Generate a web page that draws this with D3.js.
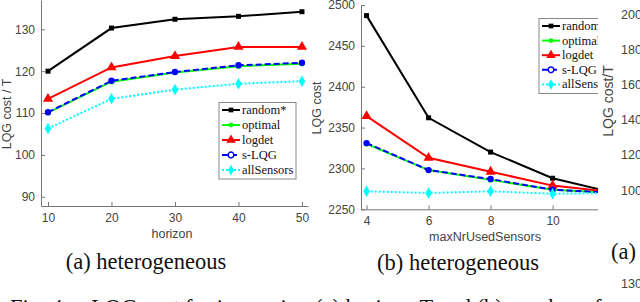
<!DOCTYPE html>
<html>
<head>
<meta charset="utf-8">
<script src="https://cdn.jsdelivr.net/npm/d3@7"></script>
<style>
body { margin: 0; background: #fff; }
svg { display: block; }
.tick text { font-family: "Liberation Sans", Arial, sans-serif; font-size: 12px; fill: #444; }
.lab { font-family: "Liberation Sans", Arial, sans-serif; font-size: 12.5px; fill: #444; }
.leg { font-family: "Liberation Serif", "Times New Roman", serif; font-size: 12.5px; fill: #111; }
.cap { font-family: "Liberation Serif", "Times New Roman", serif; font-size: 22.5px; fill: #111; }
</style>
</head>
<body>
<svg width="640" height="302"></svg>
<script>
// ---- data ----
var seriesNames = ["random*", "optimal", "logdet", "s-LQG", "allSensors"];
var seriesColors = ["#000000", "#00ff00", "#ff0000", "#0000ff", "#00ffff"];
var seriesSymbols = [d3.symbolSquare, d3.symbolCircle, d3.symbolTriangle, d3.symbolCircle, d3.symbolDiamond];
var seriesDash = [null, null, null, "6,3", "2,2"];

var horizon = [10, 20, 30, 40, 50];
var horizonRandom = [120.0, 130.3, 132.4, 133.1, 134.2];
var horizonOptimal = [110.1, 117.5, 119.7, 121.2, 121.8];
var horizonLogdet = [113.4, 120.9, 123.6, 125.8, 125.8];
var horizonSLQG = [110.2, 117.7, 119.8, 121.4, 122.0];
var horizonAll = [106.3, 113.4, 115.6, 117.0, 117.6];

var sensors = [4, 6, 8, 10, 12];
var sensorsRandom = [2487, 2362, 2320, 2288, 2270];
var sensorsOptimal = [2330, 2298, 2286, 2274, 2270];
var sensorsLogdet = [2364, 2313, 2296, 2279, 2271];
var sensorsSLQG = [2331, 2298, 2287, 2274, 2270];
var sensorsAll = [2272, 2270, 2272, 2269, 2270];

var yTicksA = [90, 100, 110, 120, 130];
var xTicksA = [10, 20, 30, 40, 50];
var yTicksB = [2250, 2300, 2350, 2400, 2450, 2500];
var xTicksB = [4, 6, 8, 10];
var yTicksC = [200, 180, 160, 140, 120, 100];

var svg = d3.select("svg");

var drawPanel = function(g, xs, ys, xVals, series, xTicks, yTicks, cfg) {
	g.append("g")
		.attr("transform", "translate(0," + ys.range()[0] + ")")
		.call(d3.axisBottom(xs).tickValues(xTicks).tickSize(-4).tickSizeOuter(0).tickPadding(7).tickFormat(d3.format("d")));
	g.append("g")
		.attr("transform", "translate(" + xs.range()[0] + ",0)")
		.call(d3.axisLeft(ys).tickValues(yTicks).tickSize(-4).tickSizeOuter(0).tickPadding(6).tickFormat(d3.format("d")));
	g.selectAll(".domain, .tick line").attr("stroke", "#777");

	var line = d3.line()
		.x(function(d) { return xs(d[0]); })
		.y(function(d) { return ys(d[1]); });

	series.forEach(function(vals, i) {
		var pts = xVals.map(function(x, j) { return [x, vals[j]]; });
		g.append("path")
			.attr("d", line(pts))
			.attr("fill", "none")
			.attr("stroke", seriesColors[i])
			.attr("stroke-width", 2)
			.attr("stroke-dasharray", seriesDash[i]);
		g.selectAll(".m" + i)
			.data(pts)
			.enter()
			.append("path")
			.attr("d", d3.symbol().type(seriesSymbols[i]).size([25, 22, 45, 32, 38][i]))
			.attr("transform", function(d) { return "translate(" + xs(d[0]) + "," + ys(d[1]) + ")"; })
			.attr("fill", seriesColors[i]);
	});

	// legend
	var lg = g.append("g").attr("transform", "translate(" + cfg.legX + "," + cfg.legY + ")");
	lg.append("rect")
		.attr("x", 0).attr("y", 0)
		.attr("width", cfg.legW).attr("height", cfg.legH)
		.attr("fill", "#fff").attr("stroke", "#888").attr("stroke-width", 1);
	seriesNames.forEach(function(name, i) {
		var yy = 7.5 + i * cfg.legStep;
		lg.append("line")
			.attr("x1", 3).attr("x2", 21).attr("y1", yy).attr("y2", yy)
			.attr("stroke", seriesColors[i]).attr("stroke-width", 2)
			.attr("stroke-dasharray", seriesDash[i]);
		lg.append("path")
			.attr("d", d3.symbol().type(seriesSymbols[i]).size([22, 18, 40, 26, 32][i]))
			.attr("transform", "translate(12," + yy + ")")
			.attr("fill", i == 3 ? "#fff" : seriesColors[i])
			.attr("stroke", i == 3 ? seriesColors[i] : "none")
			.attr("stroke-width", 1.5);
		lg.append("text")
			.attr("class", "leg")
			.attr("x", 23).attr("y", yy + 4)
			.text(name);
	});
};

// panel (a)
var xA = d3.scaleLinear().domain([8.9, 50.95]).range([41, 308]);
var yA = d3.scaleLinear().domain([87.8, 137]).range([206, 0]);
var gA = svg.append("g");
drawPanel(gA, xA, yA, horizon,
	[horizonRandom, horizonOptimal, horizonLogdet, horizonSLQG, horizonAll],
	xTicksA, yTicksA, {legX: 219, legY: 102.5, legW: 77, legH: 76.5, legStep: 15});
gA.append("text").attr("class", "lab")
	.attr("transform", "translate(11,114) rotate(-90)")
	.attr("text-anchor", "middle").text("LQG cost / T");
gA.append("text").attr("class", "lab")
	.attr("x", 172).attr("y", 238).attr("text-anchor", "middle").text("horizon");
gA.append("text").attr("class", "cap")
	.attr("x", 146).attr("y", 269).attr("text-anchor", "middle").text("(a) heterogeneous");

// panel (b), cut at the right edge
svg.append("clipPath").attr("id", "cutB")
	.append("rect").attr("x", 312).attr("y", 0).attr("width", 286).attr("height", 302);
var xB = d3.scaleLinear().domain([3.82, 12.8]).range([361, 639.4]);
var yB = d3.scaleLinear().domain([2250, 2500]).range([209.3, 5]);
var gB = svg.append("g").attr("clip-path", "url(#cutB)");
drawPanel(gB, xB, yB, sensors,
	[sensorsRandom, sensorsOptimal, sensorsLogdet, sensorsSLQG, sensorsAll],
	xTicksB, yTicksB, {legX: 539, legY: 18.5, legW: 77, legH: 75, legStep: 14.6});
gB.append("text").attr("class", "lab")
	.attr("transform", "translate(321,108) rotate(-90)")
	.attr("text-anchor", "middle").text("LQG cost");
gB.append("text").attr("class", "lab")
	.attr("x", 485).attr("y", 241).attr("text-anchor", "middle").text("maxNrUsedSensors");
svg.append("text").attr("class", "cap")
	.attr("x", 458).attr("y", 270).attr("text-anchor", "middle").text("(b) heterogeneous");

// panel on the far right, only its labels show
var yC = d3.scaleLinear().domain([100, 200]).range([190, 14]);
svg.selectAll(".tc")
	.data(yTicksC)
	.enter()
	.append("text")
	.attr("class", "lab")
	.attr("x", 621)
	.attr("y", function(d) { return yC(d) + 4.5; })
	.text(function(d) { return d; });
svg.append("text").attr("class", "lab")
	.style("font-size", "14px")
	.attr("transform", "translate(613,101) rotate(-90)")
	.attr("text-anchor", "middle").text("LQG cost/T");
svg.append("text").attr("class", "cap")
	.attr("x", 611).attr("y", 259).text("(a)");
svg.append("text").attr("class", "lab")
	.attr("x", 621).attr("y", 288).text("130");

// figure caption, mostly below the bottom edge
svg.append("text").attr("class", "cap")
	.attr("x", 10).attr("y", 315)
	.attr("xml:space", "preserve")
	.text("Fig. 4:    LQG cost for increasing (a) horizon T and (b) number of used");
</script>
</body>
</html>
